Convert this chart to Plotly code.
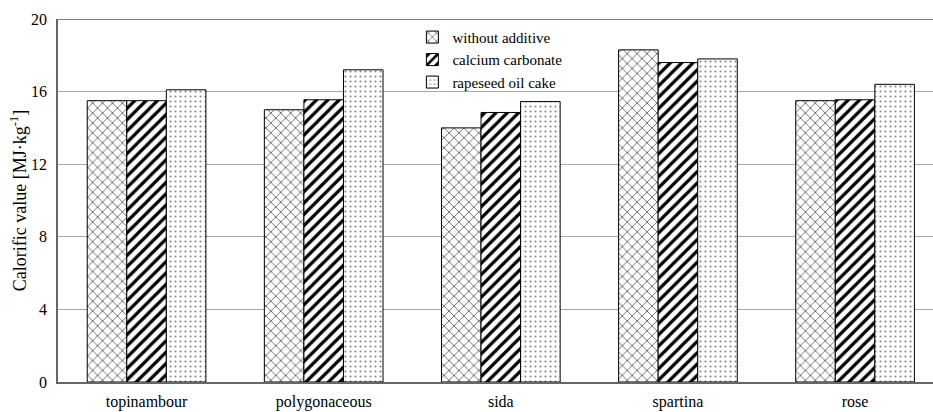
import plotly.graph_objects as go

categories = ["topinambour", "polygonaceous", "sida", "spartina", "rose"]
without_additive = [15.5, 15.0, 14.0, 18.3, 15.5]
calcium_carbonate = [15.5, 15.55, 14.85, 17.6, 15.55]
rapeseed_oil_cake = [16.1, 17.2, 15.45, 17.8, 16.4]
y_ticks = [0, 4, 8, 12, 16, 20]

FONT = "Liberation Serif"

series = [
    ("without additive", without_additive, dict(shape="x", size=7, solidity=0.15, fgcolor="black", fgopacity=1)),
    ("calcium carbonate", calcium_carbonate, dict(shape="/", size=8, solidity=0.4, fgcolor="black", fgopacity=1)),
    ("rapeseed oil cake", rapeseed_oil_cake, dict(shape=".", size=5, solidity=0.15, fgcolor="#888888", fgopacity=1)),
]

fig = go.Figure()
for name, vals, pat in series:
    fig.add_trace(go.Bar(
        x=categories, y=vals, name=name,
        marker=dict(color="white", line=dict(color="black", width=1),
                    pattern=dict(fillmode="replace", bgcolor="white", **pat)),
    ))

fig.update_layout(
    width=933, height=412,
    margin=dict(l=58, r=0, t=19, b=30),
    paper_bgcolor="white", plot_bgcolor="white",
    barmode="group", bargap=0.33, bargroupgap=0,
    font=dict(family=FONT, size=16, color="black"),
    showlegend=True,
    legend=dict(
        x=0.405, y=0.995, xanchor="left", yanchor="top",
        font=dict(family=FONT, size=15), bgcolor="rgba(0,0,0,0)",
        tracegroupgap=0, itemwidth=30,
    ),
    xaxis=dict(
        range=[-0.5, 4.44], showgrid=False, showline=True,
        linecolor="#666", linewidth=1.5, ticks="", ticklabelstandoff=4,
        tickfont=dict(family=FONT, size=16),
    ),
    yaxis=dict(
        range=[0, 20], tickvals=y_ticks, showgrid=True, gridcolor="#a8a8a8",
        gridwidth=1, showline=True, linecolor="#666", linewidth=1.5,
        ticks="outside", ticklen=6, tickcolor="rgba(0,0,0,0)",
        tickfont=dict(family=FONT, size=16), zeroline=False,
        title=dict(text="Calorific value [MJ·kg<sup>-1</sup>]",
                   font=dict(family=FONT, size=18), standoff=0),
    ),
    shapes=[dict(type="line", xref="paper", yref="y", x0=0, x1=1, y0=20, y1=20,
                 line=dict(color="#555", width=1.5))],
)

fig.write_html("out.html")
